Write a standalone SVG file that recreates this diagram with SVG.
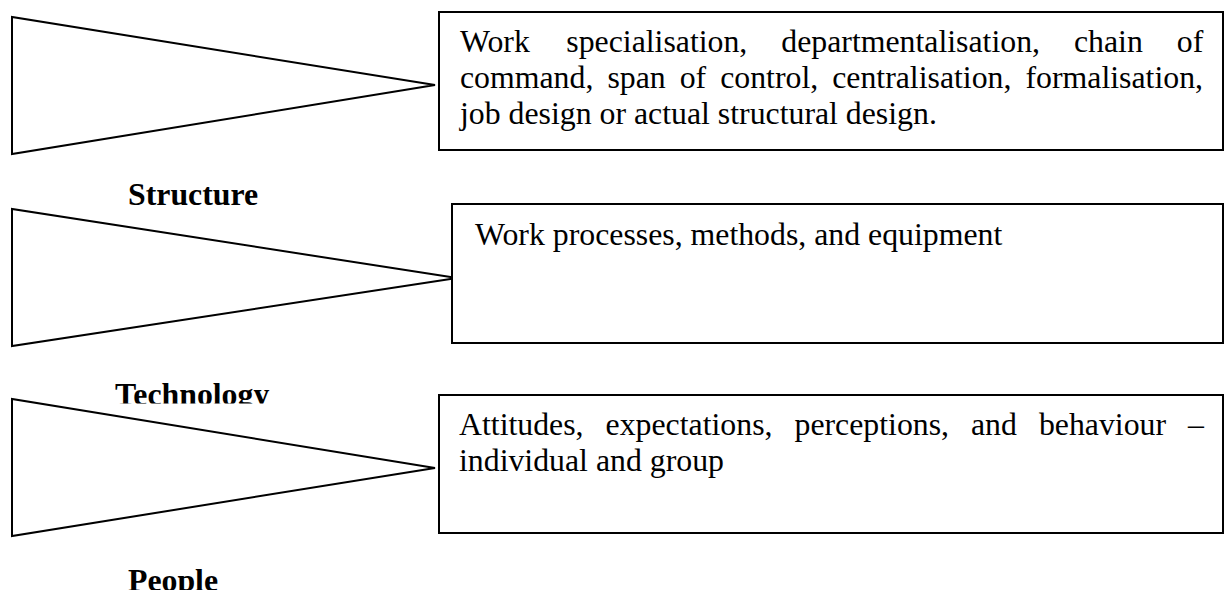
<svg xmlns="http://www.w3.org/2000/svg" width="1225" height="590" viewBox="0 0 1225 590">
  <style>
    .wedge { fill: #ffffff; stroke: #000000; stroke-width: 2; stroke-linejoin: miter; }
    .box { fill: #ffffff; stroke: #000000; stroke-width: 2; }
    .body { font-family: "Liberation Serif", "Times New Roman", serif; font-size: 31.8px; fill: #000000; }
    .label { font-family: "Liberation Serif", "Times New Roman", serif; font-size: 31.8px; font-weight: bold; fill: #000000; }
  </style>
  <defs>
    <clipPath id="clip-tech">
      <rect x="0" y="360" width="460" height="43.5"/>
    </clipPath>
  </defs>

  <rect width="1225" height="590" fill="#ffffff"/>

  <!-- Structure row -->
  <g id="structure">
    <polygon class="wedge" points="12,17 12,154 435,85"/>
    <text class="label" x="128" y="205">Structure</text>
  </g>
  <g id="structure-detail">
    <rect class="box" x="439" y="12" width="784" height="138"/>
    <text class="body" y="52">
      <tspan x="460">Work</tspan><tspan x="566.3">specialisation,</tspan><tspan x="781.3">departmentalisation,</tspan><tspan x="1074">chain</tspan><tspan x="1176.8">of</tspan>
    </text>
    <text class="body" y="88">
      <tspan x="460">command,</tspan><tspan x="607.4">span</tspan><tspan x="679.7">of</tspan><tspan x="720.2">control,</tspan><tspan x="832.2">centralisation,</tspan><tspan x="1025.5">formalisation,</tspan>
    </text>
    <text class="body" x="460" y="124">job design or actual structural design.</text>
  </g>

  <!-- Technology row -->
  <g id="technology">
    <polygon class="wedge" points="12,209 12,346 457,278"/>
    <text class="label" x="115" y="405" clip-path="url(#clip-tech)">Technology</text>
  </g>
  <g id="technology-detail">
    <rect class="box" x="452" y="204" width="771" height="139"/>
    <text class="body" x="475" y="245">Work processes, methods, and equipment</text>
  </g>

  <!-- People row -->
  <g id="people">
    <polygon class="wedge" points="12,399 12,536 435,468"/>
    <text class="label" x="128" y="591">People</text>
  </g>
  <g id="people-detail">
    <rect class="box" x="439" y="395" width="784" height="138"/>
    <text class="body" y="435">
      <tspan x="459">Attitudes,</tspan><tspan x="605.6">expectations,</tspan><tspan x="794.5">perceptions,</tspan><tspan x="971">and</tspan><tspan x="1038.9">behaviour</tspan><tspan x="1188.1">–</tspan>
    </text>
    <text class="body" x="459" y="471">individual and group</text>
  </g>
</svg>
